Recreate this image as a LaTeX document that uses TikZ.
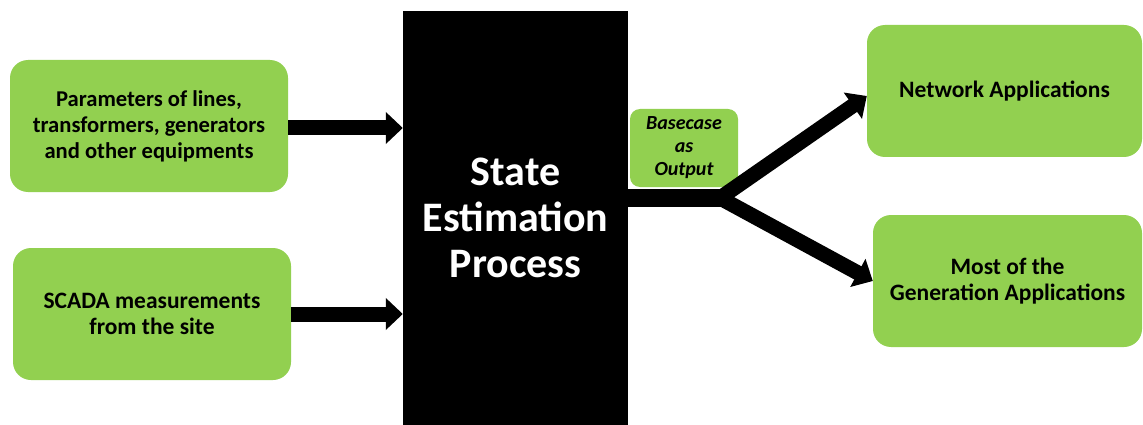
\documentclass[tikz,border=0pt]{standalone}
\usepackage{fontspec}
\setmainfont{Carlito}
\usetikzlibrary{arrows.meta,positioning}
\definecolor{leafgreen}{HTML}{92D050}
\tikzset{
  greenbox/.style={fill=leafgreen, rounded corners=18pt, align=center, inner sep=0pt,
    font=\fontsize{23.5}{26.5}\selectfont\bfseries, text=black},
  fatarrow/.style={draw=black, line width=15pt, -{Triangle[length=17pt,width=31pt]}},
  feedline/.style={draw=black, line width=18pt},
}
\begin{document}
\begin{tikzpicture}[x=1pt,y=-1pt]
  \useasboundingbox (0,0) rectangle (1143,425);
  % central process block
  \node[fill=black, minimum width=225pt, minimum height=414pt, inner sep=0pt,
        text=white, align=center, font=\fontsize{42}{46}\selectfont\bfseries]
        (se) at (515.5,218) {State\\Estimation\\Process};
  % inputs
  \node[greenbox, minimum width=278pt, minimum height=132pt,
        font=\fontsize{22.6}{26}\selectfont\bfseries] (par) at (149,126)
        {Parameters of lines,\\transformers, generators\\and other equipments};
  \node[greenbox, minimum width=278pt, minimum height=132pt] (scada) at (152,314)
        {SCADA measurements\\from the site};
  % outputs
  \node[greenbox, minimum width=275pt, minimum height=132pt] (net) at (1004.5,91)
        {Network Applications};
  \node[greenbox, minimum width=269pt, minimum height=132pt] (gen) at (1007.5,281)
        {Most of the\\Generation Applications};
  % output label
  \node[fill=leafgreen, rounded corners=10pt, minimum width=108pt, minimum height=78pt,
        inner sep=0pt, align=center, font=\fontsize{20}{23}\selectfont\bfseries\itshape]
        (base) at (684,148) {Basecase\\as\\Output};
  % input arrows
  \draw[fatarrow] ([yshift=-2pt]par.east) -- ([yshift=-2pt]par.east -| se.west);
  \draw[fatarrow] (scada.east) -- (scada.east -| se.west);
  % output feed and split
  \coordinate (j) at (724,198);
  \draw[feedline] (se.east |- j) -- (j);
  \draw[fatarrow] ([xshift=-4pt]j) -- ([yshift=-5pt]net.west);
  \draw[fatarrow] ([xshift=-4pt]j) -- (gen.west);
\end{tikzpicture}
\end{document}
